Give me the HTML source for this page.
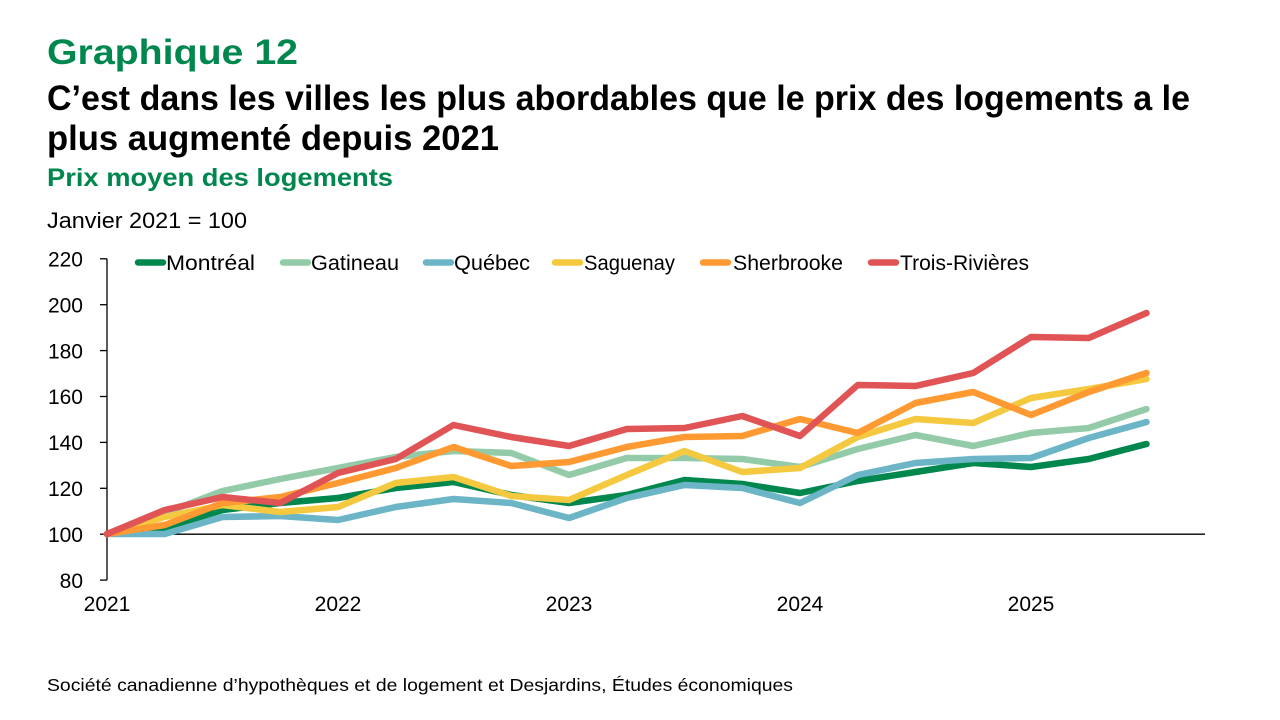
<!DOCTYPE html>
<html>
<head>
<meta charset="utf-8">
<style>
  html, body { margin: 0; padding: 0; background: #ffffff; }
  svg { display: block; }
  text { font-family: "Liberation Sans", "DejaVu Sans", sans-serif; }
</style>
</head>
<body>
<svg width="1280" height="720" viewBox="0 0 1280 720" xmlns="http://www.w3.org/2000/svg">
  <rect x="0" y="0" width="1280" height="720" fill="#ffffff"/>

  <!-- Titles -->
  <text x="47" y="64" font-size="35" font-weight="bold" fill="#00874E" textLength="251" lengthAdjust="spacingAndGlyphs">Graphique 12</text>
  <text x="47" y="110" font-size="35" font-weight="bold" fill="#000000" textLength="1143" lengthAdjust="spacingAndGlyphs">C’est dans les villes les plus abordables que le prix des logements a le</text>
  <text x="47" y="150" font-size="35" font-weight="bold" fill="#000000" textLength="452" lengthAdjust="spacingAndGlyphs">plus augmenté depuis 2021</text>
  <text x="47" y="186" font-size="25" font-weight="bold" fill="#00874E" textLength="346" lengthAdjust="spacingAndGlyphs">Prix moyen des logements</text>
  <text x="47" y="228" font-size="22" fill="#000000" textLength="200" lengthAdjust="spacingAndGlyphs">Janvier 2021 = 100</text>

  <!-- Y axis labels -->
  <g font-size="21" fill="#000000" text-anchor="end">
    <text x="83" y="266.5">220</text>
    <text x="83" y="312.4">200</text>
    <text x="83" y="358.3">180</text>
    <text x="83" y="404.2">160</text>
    <text x="83" y="450.1">140</text>
    <text x="83" y="496">120</text>
    <text x="83" y="541.9">100</text>
    <text x="83" y="587.8">80</text>
  </g>

  <!-- X axis labels -->
  <g font-size="21" fill="#000000" text-anchor="middle">
    <text x="107" y="611">2021</text>
    <text x="338" y="611">2022</text>
    <text x="569" y="611">2023</text>
    <text x="800" y="611">2024</text>
    <text x="1031" y="611">2025</text>
  </g>

  <!-- Axes -->
  <g stroke="#000000" stroke-width="1.3" fill="none">
    <line x1="107" y1="258.8" x2="107" y2="580.1"/>
    <line x1="100" y1="258.8" x2="107" y2="258.8"/>
    <line x1="100" y1="304.7" x2="107" y2="304.7"/>
    <line x1="100" y1="350.6" x2="107" y2="350.6"/>
    <line x1="100" y1="396.5" x2="107" y2="396.5"/>
    <line x1="100" y1="442.4" x2="107" y2="442.4"/>
    <line x1="100" y1="488.3" x2="107" y2="488.3"/>
    <line x1="100" y1="534.2" x2="107" y2="534.2"/>
    <line x1="100" y1="580.1" x2="107" y2="580.1"/>
    <line x1="107" y1="534.2" x2="1205" y2="534.2"/>
  </g>

  <!-- Series -->
  <g fill="none" stroke-width="6.5" stroke-linejoin="round" stroke-linecap="round">
    <!-- Montréal -->
    <polyline stroke="#00874D" points="107,534 164.75,528 222.5,510 280.25,503 338,498 395.75,488 453.5,482 511.25,495 569,503 626.75,495 684.5,480 742.25,484 800,493 857.75,481 915.5,472 973.25,463 1031,467 1088.75,459 1146.5,444"/>
    <!-- Gatineau -->
    <polyline stroke="#93CBA9" points="107,534 164.75,513 222.5,491 280.25,479 338,468 395.75,457 453.5,451 511.25,453 569,475 626.75,458 684.5,458 742.25,459 800,467 857.75,449 915.5,435 973.25,446 1031,433 1088.75,428 1146.5,409"/>
    <!-- Québec -->
    <polyline stroke="#6BB5C7" points="107,534 164.75,534 222.5,517 280.25,516 338,520 395.75,507 453.5,499 511.25,503 569,518 626.75,498 684.5,485 742.25,488 800,503 857.75,475 915.5,463 973.25,459 1031,458 1088.75,438 1146.5,422"/>
    <!-- Saguenay -->
    <polyline stroke="#F5C93F" points="107,534 164.75,517 222.5,505 280.25,512 338,507 395.75,483 453.5,477 511.25,496 569,500 626.75,475 684.5,451 742.25,472 800,468 857.75,437 915.5,419 973.25,423 1031,398 1088.75,389 1146.5,379"/>
    <!-- Sherbrooke -->
    <polyline stroke="#FF9A33" points="107,534 164.75,525 222.5,503 280.25,497 338,483 395.75,468 453.5,447 511.25,466 569,462 626.75,447 684.5,437 742.25,436 800,419 857.75,433 915.5,403 973.25,392 1031,415 1088.75,392 1146.5,373"/>
    <!-- Trois-Rivières -->
    <polyline stroke="#E05456" points="107,534 164.75,510 222.5,497 280.25,503 338,473 395.75,459 453.5,425 511.25,437 569,446 626.75,429 684.5,428 742.25,416 800,436 857.75,385 915.5,386 973.25,373 1031,337 1088.75,338 1146.5,313"/>
  </g>

  <!-- Legend -->
  <g stroke-width="6.5" stroke-linecap="round">
    <line x1="138" y1="262.5" x2="163" y2="262.5" stroke="#00874D"/>
    <line x1="283" y1="262.5" x2="308" y2="262.5" stroke="#93CBA9"/>
    <line x1="426" y1="262.5" x2="451" y2="262.5" stroke="#6BB5C7"/>
    <line x1="555" y1="262.5" x2="580" y2="262.5" stroke="#F5C93F"/>
    <line x1="703" y1="262.5" x2="728" y2="262.5" stroke="#FF9A33"/>
    <line x1="871" y1="262.5" x2="896" y2="262.5" stroke="#E05456"/>
  </g>
  <g font-size="21" fill="#000000">
    <text x="166" y="270" textLength="89" lengthAdjust="spacingAndGlyphs">Montréal</text>
    <text x="311" y="270" textLength="88" lengthAdjust="spacingAndGlyphs">Gatineau</text>
    <text x="454" y="270" textLength="76" lengthAdjust="spacingAndGlyphs">Québec</text>
    <text x="584" y="270" textLength="91" lengthAdjust="spacingAndGlyphs">Saguenay</text>
    <text x="733" y="270" textLength="110" lengthAdjust="spacingAndGlyphs">Sherbrooke</text>
    <text x="900" y="270" textLength="129" lengthAdjust="spacingAndGlyphs">Trois-Rivières</text>
  </g>

  <!-- Footer -->
  <text x="47" y="691" font-size="17.5" fill="#000000" textLength="746" lengthAdjust="spacingAndGlyphs">Société canadienne d’hypothèques et de logement et Desjardins, Études économiques</text>
</svg>
</body>
</html>
